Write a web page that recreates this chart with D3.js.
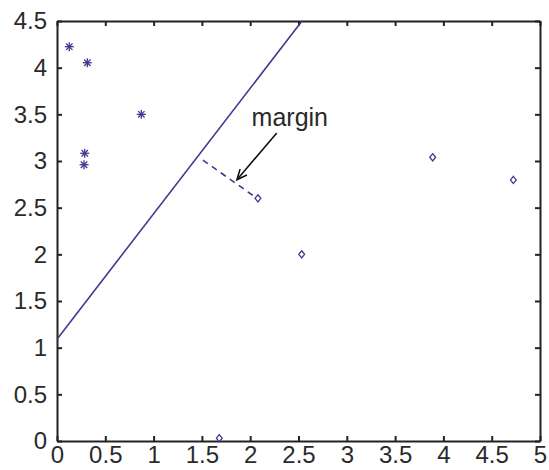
<!DOCTYPE html>
<html>
<head>
<meta charset="utf-8">
<script src="https://cdn.jsdelivr.net/npm/d3@7"></script>
<style>
  body { margin: 0; background: #fff; }
  text { font-family: "Liberation Sans", Arial, sans-serif; }
</style>
</head>
<body>
<svg id="chart"></svg>
<script>
// data
const starX = [0.127, 0.314, 0.873, 0.287, 0.280];
const starY = [4.225, 4.053, 3.50, 3.083, 2.960];
const diamondX = [2.08, 2.533, 3.889, 4.724, 1.68];
const diamondY = [2.60, 2.00, 3.04, 2.797, 0.03];
const boundaryX = [0, 2.536];
const boundaryY = [1.09, 4.5];
const marginX = [1.51, 2.05];
const marginY = [3.01, 2.615];
const arrowX = [2.275, 1.863];
const arrowY = [3.30, 2.80];
const xTicks = [0, 0.5, 1, 1.5, 2, 2.5, 3, 3.5, 4, 4.5, 5];
const yTicks = [0, 0.5, 1, 1.5, 2, 2.5, 3, 3.5, 4, 4.5];

const width = 549, height = 470;
const margin = { top: 21, right: 9, bottom: 29, left: 57 };
const blue = "#3e3b8e";
const axisColor = "#222";

const svg = d3.select("#chart").attr("width", width).attr("height", height);

const xScale = d3.scaleLinear().domain([0, 5]).range([margin.left, width - margin.right]);
const yScale = d3.scaleLinear().domain([0, 4.5]).range([height - margin.bottom, margin.top]);

// axes, ticks pointing inward on all four sides
const fmt = d => d;
svg.append("g")
  .attr("class", "axis")
  .attr("transform", `translate(0,${yScale(0)})`)
  .call(d3.axisBottom(xScale).tickValues(xTicks).tickFormat(fmt).tickSize(-5).tickSizeOuter(0).tickPadding(5));
svg.append("g")
  .attr("class", "axis")
  .attr("transform", `translate(${xScale(0)},0)`)
  .call(d3.axisLeft(yScale).tickValues(yTicks).tickFormat(fmt).tickSize(-5).tickSizeOuter(0).tickPadding(10));
svg.append("g")
  .attr("class", "axis")
  .attr("transform", `translate(0,${yScale(4.5)})`)
  .call(d3.axisTop(xScale).tickValues(xTicks).tickFormat("").tickSize(-5).tickSizeOuter(0));
svg.append("g")
  .attr("class", "axis")
  .attr("transform", `translate(${xScale(5)},0)`)
  .call(d3.axisRight(yScale).tickValues(yTicks).tickFormat("").tickSize(-5).tickSizeOuter(0));

svg.selectAll(".axis path").attr("stroke", axisColor).attr("stroke-width", 2);
svg.selectAll(".axis line").attr("stroke", axisColor).attr("stroke-width", 2);
svg.selectAll(".axis text")
  .attr("fill", "#2a2a2a")
  .style("font-size", "24px");

// separating line
const line = d3.line().x(d => xScale(d[0])).y(d => yScale(d[1]));
svg.append("path")
  .attr("d", line(d3.zip(boundaryX, boundaryY)))
  .attr("fill", "none")
  .attr("stroke", blue)
  .attr("stroke-width", 1.6);

// dashed margin segment
svg.append("path")
  .attr("d", line(d3.zip(marginX, marginY)))
  .attr("fill", "none")
  .attr("stroke", blue)
  .attr("stroke-width", 1.6)
  .attr("stroke-dasharray", "6,5");

// star markers
const stars = svg.append("g").selectAll("g")
  .data(d3.zip(starX, starY))
  .join("g")
  .attr("transform", d => `translate(${xScale(d[0])},${yScale(d[1])})`);
const r = 4.5, rd = 3.2;
[[-r, 0, r, 0], [0, -r, 0, r], [-rd, -rd, rd, rd], [-rd, rd, rd, -rd]].forEach(s => {
  stars.append("line")
    .attr("x1", s[0]).attr("y1", s[1]).attr("x2", s[2]).attr("y2", s[3])
    .attr("stroke", blue)
    .attr("stroke-width", 1.3);
});

// diamond markers
svg.append("g").selectAll("path")
  .data(d3.zip(diamondX, diamondY))
  .join("path")
  .attr("transform", d => `translate(${xScale(d[0])},${yScale(d[1])})`)
  .attr("d", "M0,-3.6L2.9,0L0,3.6L-2.9,0Z")
  .attr("fill", "none")
  .attr("stroke", blue)
  .attr("stroke-width", 1.3);

// annotation arrow
const ax0 = xScale(arrowX[0]), ay0 = yScale(arrowY[0]);
const ax1 = xScale(arrowX[1]), ay1 = yScale(arrowY[1]);
svg.append("line")
  .attr("x1", ax0).attr("y1", ay0).attr("x2", ax1).attr("y2", ay1)
  .attr("stroke", "#111")
  .attr("stroke-width", 1.6);
const ang = Math.atan2(ay1 - ay0, ax1 - ax0);
const headLen = 11, headAng = 0.42;
const head = [
  [ax1 - headLen * Math.cos(ang - headAng), ay1 - headLen * Math.sin(ang - headAng)],
  [ax1, ay1],
  [ax1 - headLen * Math.cos(ang + headAng), ay1 - headLen * Math.sin(ang + headAng)]
];
svg.append("path")
  .attr("d", d3.line()(head))
  .attr("fill", "none")
  .attr("stroke", "#111")
  .attr("stroke-width", 1.6);

svg.append("text")
  .attr("x", xScale(2.41))
  .attr("y", yScale(3.37))
  .attr("text-anchor", "middle")
  .attr("fill", "#2a2a2a")
  .style("font-size", "25px")
  .text("margin");
</script>
</body>
</html>
